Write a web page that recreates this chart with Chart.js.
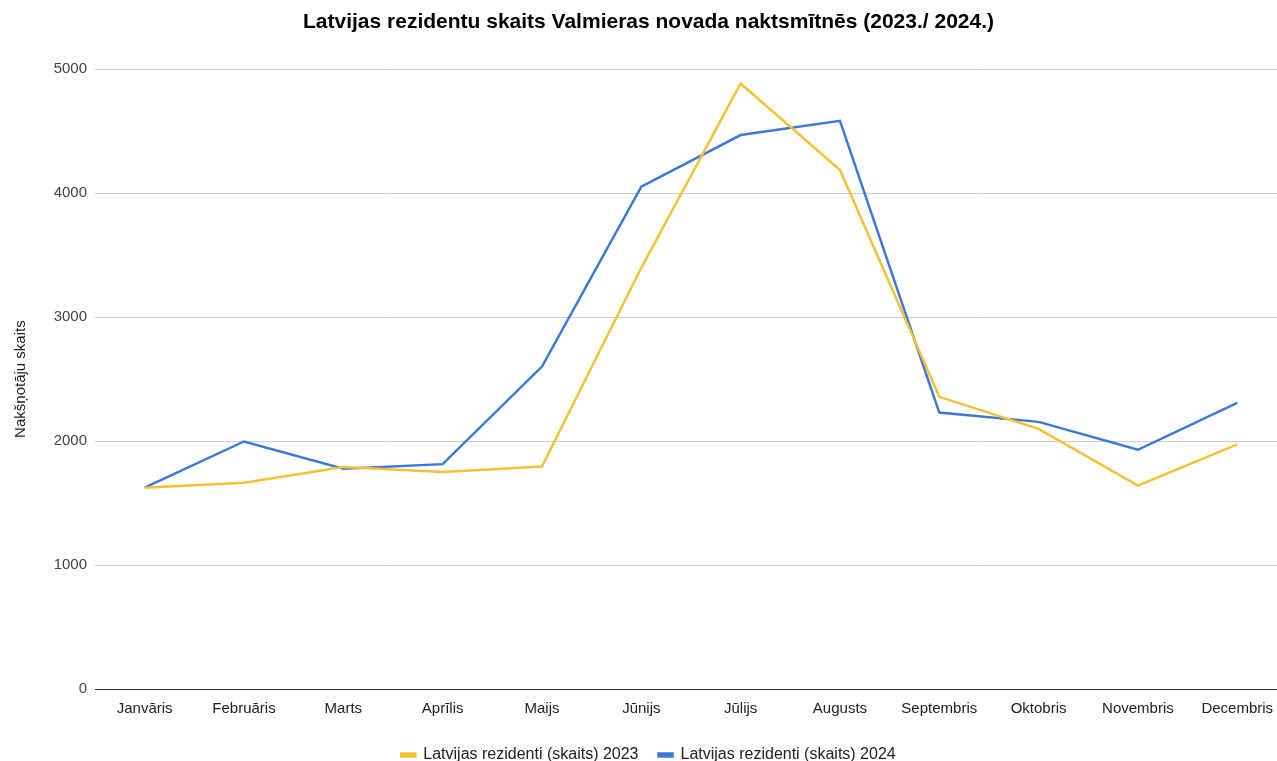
<!DOCTYPE html>
<html>
<head>
<meta charset="utf-8">
<script src="https://cdn.jsdelivr.net/npm/chart.js@4/dist/chart.umd.min.js"></script>
<style>
  html, body { margin: 0; padding: 0; background: #fff; }
  #wrap { width: 1277px; height: 761px; }
</style>
</head>
<body>
<div id="wrap"><canvas id="chart"></canvas></div>
<script>
const months = ["Janvāris", "Februāris", "Marts", "Aprīlis", "Maijs", "Jūnijs",
  "Jūlijs", "Augusts", "Septembris", "Oktobris", "Novembris", "Decembris"];
const residents2023 = [1624, 1664, 1790, 1750, 1795, 3398, 4885, 4187, 2357, 2099, 1640, 1973];
const residents2024 = [1624, 1997, 1777, 1814, 2601, 4052, 4469, 4584, 2230, 2155, 1930, 2308];
const yTicks = [0, 1000, 2000, 3000, 4000, 5000];

const font = "'Liberation Sans', Arial, sans-serif";

const toPoints = (arr) => arr.map((v, i) => ({ x: i, y: v }));

const config = {
  type: "line",
  data: {
    datasets: [
      {
        label: "Latvijas rezidenti (skaits) 2023",
        data: toPoints(residents2023),
        borderColor: "#f1c232",
        backgroundColor: "#f1c232",
        borderWidth: 2.5,
        pointRadius: 0,
        tension: 0,
      },
      {
        label: "Latvijas rezidenti (skaits) 2024",
        data: toPoints(residents2024),
        borderColor: "#3c78d8",
        backgroundColor: "#3c78d8",
        borderWidth: 2.5,
        pointRadius: 0,
        tension: 0,
      },
    ],
  },
  options: {
    responsive: true,
    maintainAspectRatio: false,
    animation: false,
    layout: {
      padding: { left: 20, right: 0, top: 0, bottom: -12 },
    },
    scales: {
      x: {
        type: "linear",
        min: -0.5,
        max: 11.4,
        afterBuildTicks: (scale) => {
          scale.ticks = months.map((m, i) => ({ value: i }));
        },
        afterFit: (scale) => {
          scale.height = 38;
          scale.paddingLeft = 0;
          scale.paddingRight = 0;
        },
        ticks: {
          callback: (value) => months[value],
          color: "#222",
          padding: 11,
          maxRotation: 0,
          autoSkip: false,
          font: { family: font, size: 15 },
        },
        grid: { display: false, drawTicks: false },
        border: { display: true, color: "#333", width: 1 },
      },
      y: {
        min: 0,
        max: 5000,
        afterBuildTicks: (scale) => {
          scale.ticks = yTicks.map((v) => ({ value: v }));
        },
        afterFit: (scale) => {
          scale.width = 75;
        },
        ticks: {
          callback: (value) => String(value),
          color: "#444",
          padding: 8,
          font: { family: font, size: 15 },
        },
        grid: {
          drawTicks: false,
          color: (context) => (context.tick.value === 0 ? "#333" : "#cccccc"),
        },
        border: { display: false },
        title: {
          display: true,
          text: "Nakšņotāju skaits",
          color: "#222",
          padding: { top: -8, bottom: 0 },
          font: { family: font, size: 15 },
        },
      },
    },
    plugins: {
      title: {
        display: true,
        text: "Latvijas rezidentu skaits Valmieras novada naktsmītnēs (2023./ 2024.)",
        color: "#000",
        padding: { top: 10, bottom: 34 },
        font: { family: font, size: 21, weight: "bold" },
      },
      legend: {
        position: "bottom",
        labels: {
          color: "#222",
          boxWidth: 14,
          boxHeight: 3,
          padding: 20,
          font: { family: font, size: 16 },
        },
      },
      tooltip: { enabled: false },
    },
  },
};

new Chart(document.getElementById("chart"), config);
</script>
</body>
</html>
